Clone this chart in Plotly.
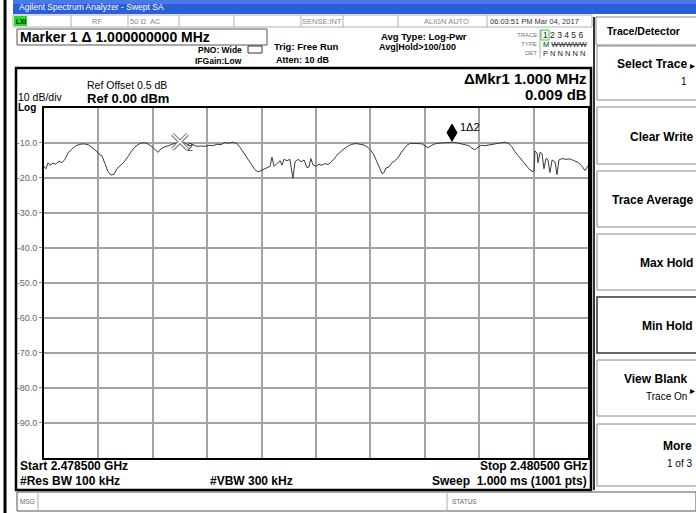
import plotly.graph_objects as go

W, H = 696, 513

# ---------------- data ----------------
start_ghz = 2.4785
stop_ghz = 2.4805
offset_khz = [0, 7, 15, 22, 33, 44, 55, 66, 77, 88, 103, 118, 132, 147, 162, 176, 191, 202, 213, 224,
              235, 246, 257, 268, 279, 294, 309, 323, 338, 353, 368, 382, 397, 408, 419, 430, 445, 459,
              474, 489, 504, 518, 533, 548, 562, 577, 592, 607, 621, 636, 651, 665, 680, 695, 709, 720,
              731, 743, 754, 765, 776, 787, 798, 809, 820, 831, 838, 846, 857, 868, 875, 882, 893, 904,
              915, 923, 934, 945, 956, 967, 974, 981, 989, 1000, 1011, 1022, 1033, 1044, 1055, 1066,
              1077, 1088, 1103, 1118, 1132, 1147, 1162, 1176, 1191, 1202, 1213, 1224, 1235, 1243, 1250,
              1257, 1268, 1279, 1290, 1301, 1312, 1323, 1334, 1345, 1360, 1375, 1390, 1401, 1412, 1423,
              1437, 1452, 1467, 1481, 1496, 1504, 1518, 1533, 1548, 1562, 1573, 1584, 1596, 1607, 1621,
              1636, 1651, 1665, 1680, 1695, 1709, 1720, 1731, 1743, 1754, 1765, 1776, 1787, 1798, 1802,
              1805, 1813, 1816, 1824, 1831, 1838, 1846, 1853, 1860, 1868, 1879, 1886, 1893, 1904, 1919,
              1934, 1948, 1963, 1978, 1989, 2000]
level_dbm = [-16.8, -17.5, -15.8, -16.5, -15.9, -16.2, -15.3, -15.8, -14.8, -13.0, -11.8, -10.9, -10.5,
             -10.4, -10.6, -11.3, -12.3, -13.3, -13.8, -16.0, -18.3, -19.3, -19.1, -17.5, -16.6, -15.6,
             -14.0, -12.3, -11.0, -10.3, -10.0, -10.4, -11.2, -12.0, -12.8, -11.8, -11.2, -10.9, -10.4,
             -10.2, -9.8, -10.1, -11.0, -10.6, -11.1, -11.0, -11.1, -10.8, -10.9, -10.5, -10.6, -10.0,
             -10.2, -9.9, -10.3, -11.3, -12.6, -14.2, -15.4, -16.6, -17.8, -18.4, -18.0, -17.6, -17.2,
             -16.8, -14.2, -16.8, -16.0, -15.2, -16.5, -14.8, -15.2, -14.8, -20.2, -15.5, -14.8, -15.5,
             -15.0, -17.2, -17.0, -14.6, -16.4, -16.8, -16.2, -16.5, -16.0, -16.3, -15.6, -14.8, -13.6,
             -12.8, -11.8, -11.0, -10.5, -10.3, -10.4, -10.7, -11.4, -12.3, -13.6, -15.5, -17.0, -18.9,
             -18.6, -17.3, -17.0, -15.8, -15.2, -14.4, -13.0, -12.0, -10.8, -10.3, -10.2, -10.3, -10.4,
             -11.0, -11.5, -10.9, -10.4, -10.2, -10.1, -10.2, -10.1, -9.9, -10.1, -10.3, -10.5, -10.9,
             -11.6, -12.1, -11.3, -10.8, -10.9, -10.6, -10.5, -10.3, -10.0, -9.9, -10.3, -11.2, -12.6,
             -13.8, -14.8, -15.8, -16.9, -17.9, -18.3, -18.2, -12.4, -13.0, -15.8, -12.8, -13.2, -17.5,
             -14.5, -15.0, -18.6, -15.0, -15.6, -19.2, -15.0, -14.6, -14.8, -14.7, -15.2, -15.6, -16.8,
             -18.0, -16.6]
marker2_khz, marker2_dbm = 500, -9.8
marker1_khz, marker1_dbm = 1500, -9.9
y_ticks = [-10, -20, -30, -40, -50, -60, -70, -80, -90]
y_tick_labels = ["-10.0", "-20.0", "-30.0", "-40.0", "-50.0", "-60.0", "-70.0", "-80.0", "-90.0"]
x_grid_step_ghz = 0.0002

freq_ghz = [start_ghz + k * 1e-6 for k in offset_khz]
m2_f = start_ghz + marker2_khz * 1e-6
m1_f = start_ghz + marker1_khz * 1e-6

FONT = "Liberation Sans"


def X(px):
    return px / W


def Y(py):
    return 1 - py / H


shapes = []
annotations = []


def rect(x0, y0, x1, y1, line="#000", lw=1, fill=None, layer="below"):
    shapes.append(dict(type="rect", xref="paper", yref="paper", x0=X(x0), x1=X(x1), y0=Y(y0), y1=Y(y1),
                       line=dict(color=line, width=lw), fillcolor=fill, layer=layer))


def line(x0, y0, x1, y1, color="#000", lw=1, layer="below"):
    shapes.append(dict(type="line", xref="paper", yref="paper", x0=X(x0), x1=X(x1), y0=Y(y0), y1=Y(y1),
                       line=dict(color=color, width=lw), layer=layer))


def text(x, y, t, size=11, bold=False, anchor="left", color="#000", font=FONT):
    annotations.append(dict(xref="paper", yref="paper", x=X(x), y=Y(y), text=("<b>%s</b>" % t) if bold else t,
                            showarrow=False, xanchor=anchor, yanchor="middle",
                            font=dict(size=size, color=color, family=font), borderpad=0))


# window frame
line(5, 0, 5, 513, "#000", 3)
rect(13, 0, 696, 14, line="#1f4fc0", lw=0, fill="#2a5fd6")
rect(13, 0, 696, 4, line="#5a8af0", lw=0, fill="#4a7ae8")
text(18, 7, "Agilent Spectrum Analyzer - Swept SA", 8.5, color="#fff")

# status row
rect(13, 15, 592, 27, line="#b0b0b0", lw=1, fill="#fff")
rect(14, 16, 27, 26, line="#1a1a1a", lw=0, fill="#22dd22")
text(15, 21, "LXI", 6.5, bold=True, color="#000")
for sx in [71, 128, 179, 234, 301, 343, 398, 487]:
    line(sx, 15, sx, 27, "#b0b0b0", 1)
text(97, 21, "RF", 7.5, color="#888", anchor="center")
text(129, 21, "50 Ω", 7.5, color="#888", anchor="left")
text(155, 21, "AC", 7.5, color="#888", anchor="center")
text(322, 21, "SENSE:INT", 7.5, color="#888", anchor="center")
text(470, 21, "ALIGN AUTO", 7.5, color="#888", anchor="right")
text(489, 21, "06:03:51 PM Mar 04, 2017", 7.5, color="#333", anchor="left")

# marker box
rect(17, 29, 267, 45, line="#555", lw=1)
text(19, 37.5, "Marker 1 Δ 1.000000000 MHz", 14, bold=True)
text(243, 50, "PNO: Wide", 8.5, bold=True, anchor="right")
text(243, 61, "IFGain:Low", 8.5, bold=True, anchor="right")
rect(248, 46, 262, 53, line="#333", lw=1)
text(273, 47, "Trig: Free Run", 9.5, bold=True)
text(275, 60, "Atten: 10 dB", 9, bold=True)
text(380, 36, "Avg Type: Log-Pwr", 9.5, bold=True)
text(378, 47, "Avg|Hold>100/100", 9, bold=True)

# trace block
text(538, 35, "TRACE", 6, color="#777", anchor="right")
text(538, 44, "TYPE", 6, color="#777", anchor="right")
text(538, 53, "DET", 6, color="#777", anchor="right")
line(540, 29, 540, 58, "#aaa", 1)
rect(541, 30, 549, 40, line="#3c3", lw=1)
text(542, 35, "1 2 3 4 5 6", 8.5, color="#222")
text(542, 44, "M <s>WWWWW</s>", 7.5, color="#222")
text(542, 53, "P N N N N N", 7.5, color="#222")

# main box
rect(16, 68, 591, 490, line="#000", lw=2.5)
text(86, 85, "Ref Offset 0.5 dB", 10.5, bold=False)
text(86, 98, "Ref 0.00 dBm", 13, bold=True)
text(17, 96.5, "10 dB/div", 10.5)
text(17, 107.5, "Log", 10, bold=True)
text(588, 78, "ΔMkr1 1.000 MHz", 15, bold=True, anchor="right")
text(588, 95, "0.009 dB", 15, bold=True, anchor="right")

text(19, 465.5, "Start 2.478500 GHz", 12, bold=True)
text(588, 465.5, "Stop 2.480500 GHz", 12, bold=True, anchor="right")
text(19, 481, "#Res BW 100 kHz", 12, bold=True)
text(209, 481, "#VBW 300 kHz", 12, bold=True)
text(588, 481, "Sweep  1.000 ms (1001 pts)", 12, bold=True, anchor="right")

# status bar
rect(17, 492, 696, 511, line="#555", lw=1)
line(38, 492, 38, 511, "#aaa", 1)
line(447, 492, 447, 511, "#aaa", 1)
text(19, 501, "MSG", 6.5, color="#666")
text(451, 501, "STATUS", 6.5, color="#666")

# right panel
line(594, 17, 594, 490, "#333", 2)
rect(596, 17, 700, 45, line="#888", lw=1)
text(643, 31, "Trace/Detector", 10.5, bold=True, anchor="center")
buttons = [(46, 100, "Select Trace", "1"), (107, 164, "Clear Write", None), (171, 227, "Trace Average", None),
           (234, 290, "Max Hold", None), (297, 353, "Min Hold", None), (360, 416, "View Blank", "Trace On"),
           (424, 486, "More", "1 of 3")]
for (b0, b1, lab, sub) in buttons:
    rect(597, b0, 700, b1, line="#333" if lab == "Min Hold" else "#888", lw=1.5 if lab == "Min Hold" else 1)
    if sub:
        xr = 688 if lab in ("Select Trace", "View Blank") else 693
        text(xr, (b0 + b1) / 2 - 9, lab, 12, bold=True, anchor="right")
        text(xr, (b0 + b1) / 2 + 8, sub, 10, anchor="right")
    else:
        text(694, (b0 + b1) / 2 + 1, lab, 12, bold=True, anchor="right")
text(692, 65, "▸", 10, anchor="center")
text(692, 390, "▸", 10, anchor="center")

fig = go.Figure()
fig.add_trace(go.Scatter(x=freq_ghz, y=level_dbm, mode="lines", line=dict(color="#3a3a3a", width=1),
                         hoverinfo="skip", showlegend=False))
fig.add_trace(go.Scatter(x=[m2_f], y=[marker2_dbm], mode="markers",
                         marker=dict(symbol="x-thin", size=15, line=dict(color="#8a8a8a", width=4)),
                         showlegend=False, hoverinfo="skip"))
fig.add_trace(go.Scatter(x=[m2_f], y=[marker2_dbm], mode="markers",
                         marker=dict(symbol="x-thin", size=15, line=dict(color="#fff", width=1.5)),
                         showlegend=False, hoverinfo="skip"))
annotations.append(dict(x=m2_f, y=marker2_dbm, xref="x", yref="y", text="2", showarrow=False,
                        xshift=10, yshift=-5, font=dict(size=11, color="#333", family=FONT)))
shapes.append(dict(type="path", xref="x", yref="y", xsizemode="pixel", ysizemode="pixel",
                   xanchor=m1_f, yanchor=marker1_dbm, path="M 0,1 L 5,9.5 L 0,18 L -5,9.5 Z",
                   fillcolor="#000", line=dict(color="#000", width=1), layer="above"))
annotations.append(dict(x=m1_f, y=marker1_dbm, xref="x", yref="y", text="1Δ2", showarrow=False,
                        xanchor="left", xshift=6, yshift=15, font=dict(size=11, color="#000", family=FONT)))

grid_vals = [start_ghz + i * x_grid_step_ghz for i in range(11)]
fig.update_layout(
    width=W, height=H, margin=dict(l=0, r=0, t=0, b=0),
    paper_bgcolor="#fff", plot_bgcolor="#fff",
    shapes=shapes, annotations=annotations, showlegend=False,
    xaxis=dict(domain=[X(44), X(588)], range=[start_ghz, stop_ghz], tickvals=grid_vals, showticklabels=False,
               showgrid=True, gridcolor="#a3a3a3", gridwidth=1.5, zeroline=False, showline=True,
               linecolor="#000", linewidth=2, mirror=True, automargin=False),
    yaxis=dict(domain=[Y(457.5), Y(107.5)], range=[-100, 0], tickvals=y_ticks, ticktext=y_tick_labels,
               showgrid=True, gridcolor="#a3a3a3", gridwidth=1.5, zeroline=False, showline=True,
               linecolor="#000", linewidth=2, mirror=True, automargin=False, ticks="outside", ticklen=3,
               tickcolor="#888", tickfont=dict(size=9, color="#666", family=FONT)),
)
fig.write_html("out.html", config={"displayModeBar": False},
               post_script="document.body.style.margin='0';document.body.style.padding='0';")
